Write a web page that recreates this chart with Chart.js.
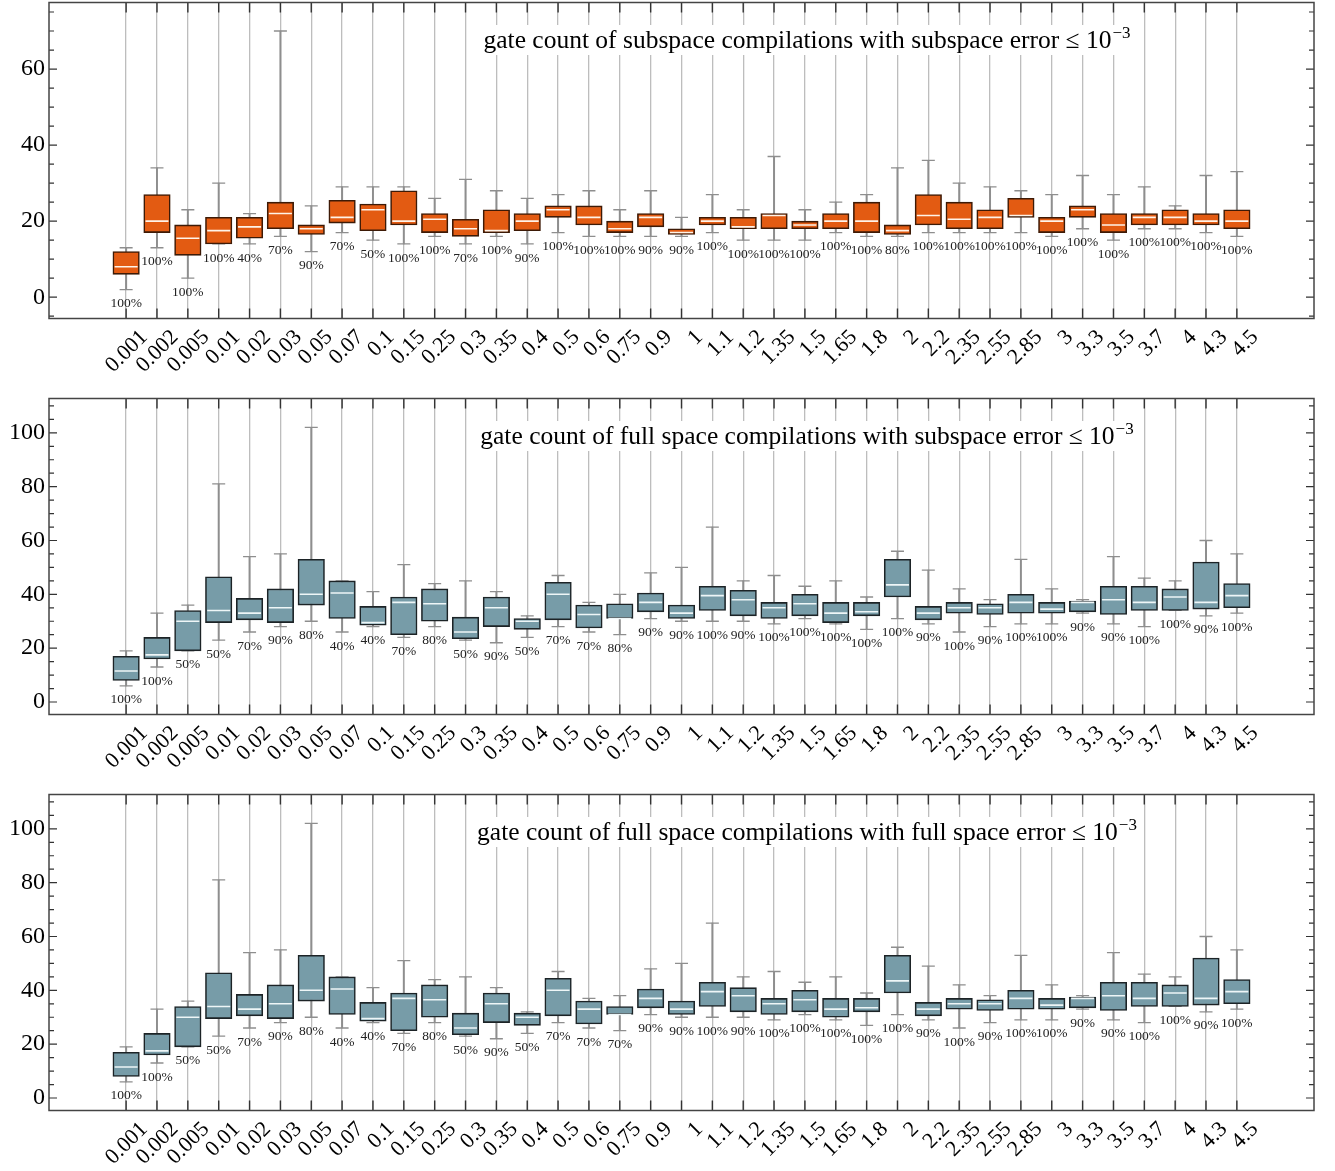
<!DOCTYPE html>
<html>
<head>
<meta charset="utf-8">
<script src="https://cdn.jsdelivr.net/npm/chart.js@4/dist/chart.umd.min.js"></script>
<style>
  html, body { margin: 0; padding: 0; background: #fff; overflow: hidden; }
  .panel { position: absolute; left: 0; width: 1335px; }
  canvas { display: block; }
</style>
</head>
<body>
<div class="panel" style="top:0px;height:396px"><canvas id="c1" width="1335" height="396"></canvas></div>
<div class="panel" style="top:396px;height:396px"><canvas id="c2" width="1335" height="396"></canvas></div>
<div class="panel" style="top:792px;height:379px"><canvas id="c3" width="1335" height="379"></canvas></div>
<script>
// ---------------- DATA ----------------
const categories = ['0.001','0.002','0.005','0.01','0.02','0.03','0.05','0.07','0.1','0.15','0.25',
  '0.3','0.35','0.4','0.5','0.6','0.75','0.9','1','1.1','1.2','1.35','1.5','1.65','1.8',
  '2','2.2','2.35','2.55','2.85','3','3.3','3.5','3.7','4','4.3','4.5'];

// Panel 1: subspace compilations, subspace error
const p1Min = [2,13,5,14,14,16,12,17,15,14,16, 14,16,14,17,16,16,16,16,17,15,15,15,17,16, 16,17,17,17,17,16,18,15,18,18,17,16];
const p1Q1  = [6,17,11,14,15.5,18,16.5,19.5,17.5,19,17, 16,17,17.5,21,19,17,18.5,16.5,19,18,18,18,18,17, 16.5,19,18,18,21,17,21,17,19,19,19,18];
const p1Med = [8,20,15.5,17.5,18.5,22,18,21,23,20,20.5, 18,17.5,20,23,21,18,21,17,20,18.5,21.5,19,20,20, 17.5,21.5,20.5,21,21.5,20,23,19,21,21,20,20];
const p1Q3  = [12,27,19,21,21,25,19,25.5,24.5,28,22, 20.5,23,22,24,24,20,22,18,21,21,22,20,22,25, 19,27,25,23,26,21,24,22,22,23,22,23];
const p1Max = [13,34,23,30,22,70,24,29,29,29,26, 31,28,26,27,28,23,28,21,27,23,37,23,25,27, 34,36,30,29,28,27,32,27,29,24,32,33];
const p1Pct = [100,100,100,100,40,70,90,70,50,100,100, 70,100,90,100,100,100,90,90,100,100,100,100,100,100, 80,100,100,100,100,100,100,100,100,100,100,100];

// Panel 2: full space compilations, subspace error
const p2Min = [6,13,19,23,26,28,30,26,28,24,28, 23,22,24,28,26,25,31,30,30,30,29,31,29,27, 31,29,26,28,29,29,33,29,28,34,32,33];
const p2Q1  = [8,16,19,29.5,30.5,29.5,36,31,28.5,25,30, 23.5,28,27,30.5,27.5,31,33.5,31,34,32,31,32,29.5,32, 39,30.5,33,32.5,33,33,33.5,32.5,34,34,34.5,35];
const p2Med = [11.5,17.5,30,34,33,35,40,40.5,29.5,37,36.5, 26,35,30,40,32.5,31,37,33,39.5,38,35,36.5,33,33.5, 43.5,33,35,35,37,34.5,37,38,37,39,37,39.5];
const p2Q3  = [17,24,34,46.5,38.5,42,53,45,35.5,39,42, 31.5,39,31,44.5,36,36.5,40.5,36,43,41.5,37,40,37,37, 53,35.5,37,36.5,40,37,37.5,43,43,42,52,44];
const p2Max = [19,33,36,81,54,55,102,45,41,51,44, 45,41,32,47,37,40,48,50,65,45,47,43,45,39, 56,49,42,38,53,42,38,54,46,45,60,55];
const p2Pct = [100,100,50,50,70,90,80,40,40,70,80, 50,90,50,70,70,80,90,90,100,90,100,100,100,100, 100,90,100,90,100,100,90,90,100,100,90,100];

// Panel 3: full space compilations, full space error
const p3Min = [6,13,19,23,26,28,30,26,28,24,28, 23,22,24,28,26,25,31,30,30,30,29,31,29,27, 31,29,26,28,29,29,33,29,28,34,32,33];
const p3Q1  = [8,16,19,29.5,30.5,29.5,36,31,28.5,25,30, 23.5,28,27,30.5,27.5,31,33.5,31,34,32,31,32,30,32, 39,30.5,33,32.5,33,33,33.5,32.5,34,34,34.5,35];
const p3Med = [11.5,17.5,30,34,33,35,40,40.5,29.5,37,36.5, 26,35,30,40,33,31,37,33,39.5,38,35,36.5,33,33.5, 43.5,33,35,35,37,34.5,37,38,37,39,37,39.5];
const p3Q3  = [17,24,34,46.5,38.5,42,53,45,35.5,39,42, 31.5,39,31.5,44.5,36,34,40.5,36,43,41,37,40,37,37, 53,35.5,37,36.5,40,37,37.5,43,43,42,52,44];
const p3Max = [19,33,36,81,54,55,102,45,41,51,44, 45,41,32,47,37,38,48,50,65,45,47,43,45,39, 56,49,42,38,53,42,38,54,46,45,60,55];
const p3Pct = [100,100,50,50,70,90,80,40,40,70,80, 50,90,50,70,70,70,90,90,100,90,100,100,100,100, 100,90,100,90,100,100,90,90,100,100,90,100];

const titles = [
  'gate count of subspace compilations with subspace error \u2264 10',
  'gate count of full space compilations with subspace error \u2264 10',
  'gate count of full space compilations with full space error \u2264 10'
];
const yTicks1 = [0, 20, 40, 60];
const yTicks23 = [0, 20, 40, 60, 80, 100];

// ---------------- DRAWING ----------------
const SERIF = '"Liberation Serif", "Times New Roman", serif';

const decorPlugin = {
  id: 'decor',
  beforeDatasetsDraw(chart) {
    const o = chart.options.plugins.decor;
    const ctx = chart.ctx;
    ctx.save();
    ctx.font = '25.5px ' + SERIF;
    const w1 = ctx.measureText(o.title).width;
    ctx.font = '17px ' + SERIF;
    const w2 = ctx.measureText('\u22123').width;
    const total = w1 + 1 + w2;
    const left = o.cx - total / 2;
    ctx.fillStyle = '#fff';
    ctx.fillRect(left - 7, 25, total + 14, 30);
    ctx.fillStyle = '#000';
    ctx.textAlign = 'left';
    ctx.textBaseline = 'alphabetic';
    ctx.font = '25.5px ' + SERIF;
    ctx.fillText(o.title, left, 48);
    ctx.font = '17px ' + SERIF;
    ctx.fillText('\u22123', left + w1 + 1, 38);
    ctx.restore();
  },
  afterDatasetsDraw(chart) {
    const o = chart.options.plugins.decor;
    const ctx = chart.ctx;
    const xs = chart.scales.x, ys = chart.scales.y;
    ctx.save();
    ctx.font = '13.5px ' + SERIF;
    ctx.fillStyle = '#222';
    ctx.textAlign = 'center';
    ctx.textBaseline = 'middle';
    categories.forEach((c, i) => {
      const x = xs.getPixelForValue(i);
      const y = ys.getPixelForValue(o.mins[i]) + 14;
      ctx.fillText(o.pct[i] + '%', x, y);
    });
    ctx.restore();
  },
  afterDraw(chart) {
    const ctx = chart.ctx;
    const a = chart.chartArea;
    const xs = chart.scales.x, ys = chart.scales.y;
    ctx.save();
    ctx.strokeStyle = '#333';
    ctx.lineWidth = 1.4;
    ctx.beginPath();
    categories.forEach((c, i) => {
      const x = xs.getPixelForValue(i);
      ctx.moveTo(x, a.top); ctx.lineTo(x, a.top + 10);
      ctx.moveTo(x, a.bottom); ctx.lineTo(x, a.bottom - 10);
    });
    ctx.stroke();
    ctx.lineWidth = 1.2;
    ctx.beginPath();
    const start = Math.ceil(ys.min / 5) * 5;
    for (let v = start; v <= ys.max; v += 5) {
      const y = ys.getPixelForValue(v);
      if (y > a.bottom - 1 || y < a.top + 1) continue;
      const len = (v % 20 === 0) ? 8 : 5;
      ctx.moveTo(a.left, y); ctx.lineTo(a.left + len, y);
      ctx.moveTo(a.right, y); ctx.lineTo(a.right - len, y);
    }
    ctx.stroke();
    ctx.strokeStyle = '#444';
    ctx.lineWidth = 1.5;
    ctx.strokeRect(a.left, a.top, a.right - a.left, a.bottom - a.top);
    ctx.restore();
  }
};

function makePanel(id, H, yMin, yMax, yTicks, title, mins, q1, med, q3, maxs, pct, fill, edge, medColor) {
  const idx = categories.map((c, i) => i);
  const datasets = [
    { type: 'bar', label: 'whisker', order: 4, grouped: false,
      data: idx.map(i => ({ x: i, y: [mins[i], maxs[i]] })),
      backgroundColor: '#8e8e8e', borderWidth: 0, barThickness: 1.3 },
    { type: 'scatter', label: 'lowcap', order: 3,
      data: idx.map(i => ({ x: i, y: mins[i] })),
      pointStyle: 'line', pointRadius: 6.5, pointHoverRadius: 6.5,
      pointBorderColor: '#8e8e8e', pointBorderWidth: 1.3, showLine: false },
    { type: 'scatter', label: 'highcap', order: 3,
      data: idx.map(i => ({ x: i, y: maxs[i] })),
      pointStyle: 'line', pointRadius: 6.5, pointHoverRadius: 6.5,
      pointBorderColor: '#8e8e8e', pointBorderWidth: 1.3, showLine: false },
    { type: 'bar', label: 'box', order: 2, grouped: false,
      data: idx.map(i => ({ x: i, y: [q1[i], q3[i]] })),
      backgroundColor: fill, borderColor: edge, borderWidth: 1.6,
      borderSkipped: false, barThickness: 26.5 },
    { type: 'scatter', label: 'median', order: 1,
      data: idx.map(i => ({ x: i, y: med[i] })),
      pointStyle: 'line', pointRadius: 11.5, pointHoverRadius: 11.5,
      pointBorderColor: medColor, pointBorderWidth: 1.6, showLine: false }
  ];
  return new Chart(document.getElementById(id), {
    type: 'bar',
    data: { datasets },
    plugins: [decorPlugin],
    options: {
      responsive: false,
      animation: false,
      events: [],
      layout: { autoPadding: false, padding: { top: 2.5, right: 21, left: 0, bottom: 0 } },
      plugins: {
        legend: { display: false },
        tooltip: { enabled: false },
        title: { display: false },
        decor: { title, cx: 807, mins, pct }
      },
      scales: {
        x: {
          type: 'linear', min: -2.5, max: 38.5, offset: false,
          afterBuildTicks: s => { s.ticks = categories.map((c, i) => ({ value: i })); },
          afterFit: s => { s.height = H - 2.5 - 316; s.paddingLeft = 0; s.paddingRight = 0; },
          ticks: {
            autoSkip: false, maxRotation: 45, minRotation: 45,
            callback: v => categories[v] !== undefined ? categories[v] : '',
            font: { family: SERIF, size: 22 }, color: '#000',
            padding: 6, labelOffset: 18
          },
          grid: { offset: false, color: '#bdbdbd', lineWidth: 1.3, drawTicks: false },
          border: { display: false }
        },
        y: {
          type: 'linear', min: yMin, max: yMax,
          afterBuildTicks: s => { s.ticks = yTicks.map(v => ({ value: v })); },
          afterFit: s => { s.width = 49; s.paddingTop = 0; s.paddingBottom = 0; },
          ticks: { font: { family: SERIF, size: 24 }, color: '#000', padding: 4 },
          grid: { display: false, drawTicks: false },
          border: { display: false }
        }
      }
    }
  });
}

const ORANGE = '#e35b12', ORANGE_EDGE = '#3d1a06';
const TEAL = '#779ca8', TEAL_EDGE = '#1c2326';

makePanel('c1', 396, -5.6, 77.5, yTicks1, titles[0], p1Min, p1Q1, p1Med, p1Q3, p1Max, p1Pct, ORANGE, ORANGE_EDGE, '#fff3e8');
makePanel('c2', 396, -4.65, 112.75, yTicks23, titles[1], p2Min, p2Q1, p2Med, p2Q3, p2Max, p2Pct, TEAL, TEAL_EDGE, '#eef6f7');
makePanel('c3', 379, -4.65, 112.75, yTicks23, titles[2], p3Min, p3Q1, p3Med, p3Q3, p3Max, p3Pct, TEAL, TEAL_EDGE, '#eef6f7');
</script>
</body>
</html>
